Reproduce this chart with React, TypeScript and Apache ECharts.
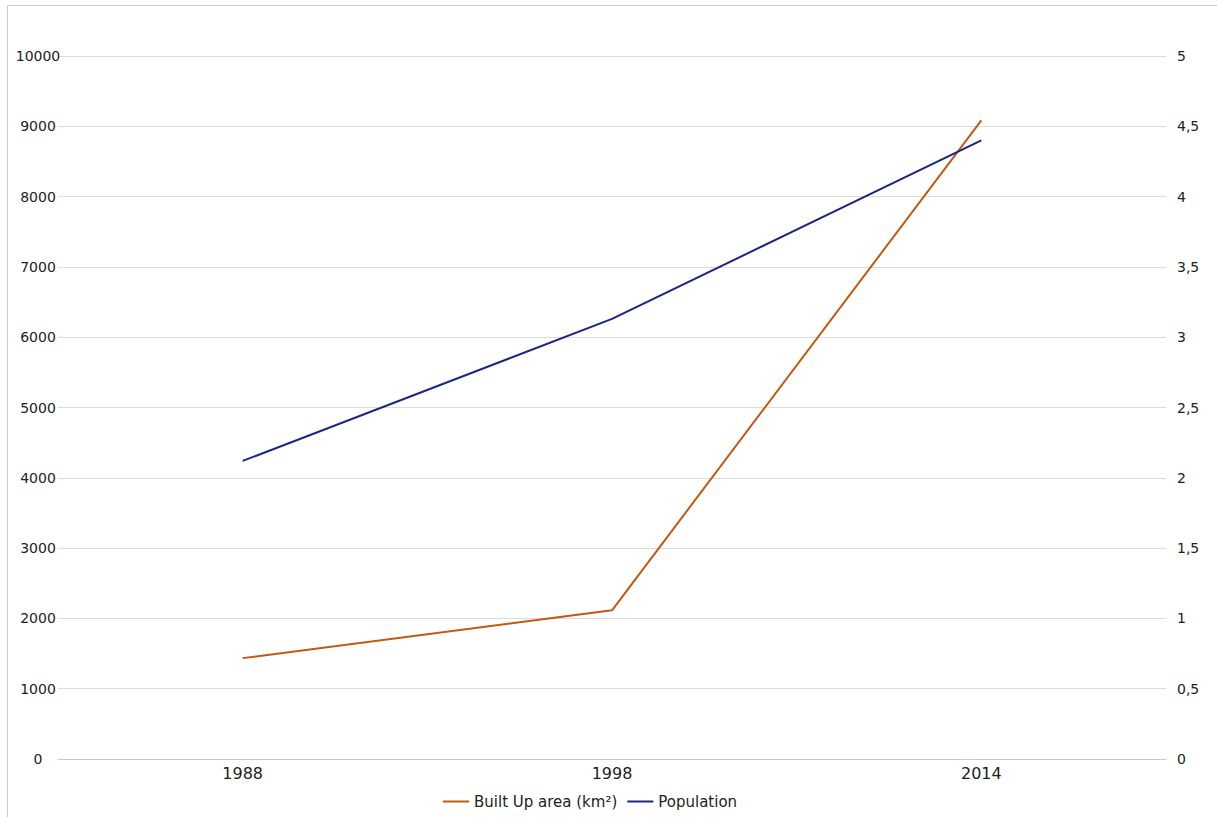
import React, { useEffect, useRef } from "react";
import * as echarts from "echarts";

const categories = ["1988", "1998", "2014"];
const builtUpArea = [1435, 2115, 9085];
const population = [2.12, 3.13, 4.40];
const seriesNames = ["Built Up area (km²)", "Population"];

export default function App() {
  const ref = useRef<HTMLDivElement>(null);
  useEffect(() => {
    document.body.style.margin = "0";
    const chart = echarts.init(ref.current!, null, { renderer: "svg" });
    const font = "DejaVu Sans";
    chart.setOption({
      animation: false,
      backgroundColor: "#ffffff",
      graphic: [
        {
          type: "rect",
          shape: { x: 7.5, y: 5.5, width: 1400, height: 1000 },
          style: { fill: "none", stroke: "#cccccc", lineWidth: 1 },
          silent: true,
        },
      ],
      grid: { left: 58, right: 51, top: 56, bottom: 58, containLabel: false },
      legend: {
        left: 438,
        top: 789,
        icon: "rect",
        itemWidth: 26,
        itemHeight: 2,
        itemGap: 10,
        textStyle: { fontFamily: font, fontSize: 15, color: "#222" },
        data: seriesNames,
      },
      xAxis: {
        type: "category",
        data: categories,
        boundaryGap: true,
        axisLine: { lineStyle: { color: "#c8c8c8", width: 1 } },
        axisTick: { show: false },
        axisLabel: { fontFamily: font, fontSize: 16, color: "#222", margin: 6 },
      },
      yAxis: [
        {
          type: "value",
          min: 0,
          max: 10000,
          interval: 1000,
          axisLine: { show: false },
          axisTick: { show: false },
          splitLine: { lineStyle: { color: "#dcdcdc", width: 1 } },
          axisLabel: {
            fontFamily: font,
            fontSize: 14,
            color: "#222",
            align: "center",
            margin: 20,
            formatter: (v: number) => String(v),
          },
        },
        {
          type: "value",
          min: 0,
          max: 5,
          interval: 0.5,
          position: "right",
          axisLine: { show: false },
          axisTick: { show: false },
          splitLine: { show: false },
          axisLabel: {
            fontFamily: font,
            fontSize: 14,
            color: "#222",
            margin: 11,
            formatter: (v: number) => String(v).replace(".", ","),
          },
        },
      ],
      series: [
        {
          name: seriesNames[0],
          type: "line",
          yAxisIndex: 0,
          data: builtUpArea,
          symbol: "none",
          lineStyle: { color: "#c4580e", width: 2 },
          itemStyle: { color: "#c4580e" },
        },
        {
          name: seriesNames[1],
          type: "line",
          yAxisIndex: 1,
          data: population,
          symbol: "none",
          lineStyle: { color: "#1a2584", width: 2 },
          itemStyle: { color: "#1a2584" },
        },
      ],
    });
    return () => chart.dispose();
  }, []);
  return <div ref={ref} style={{ width: 1217, height: 817 }} />;
}
